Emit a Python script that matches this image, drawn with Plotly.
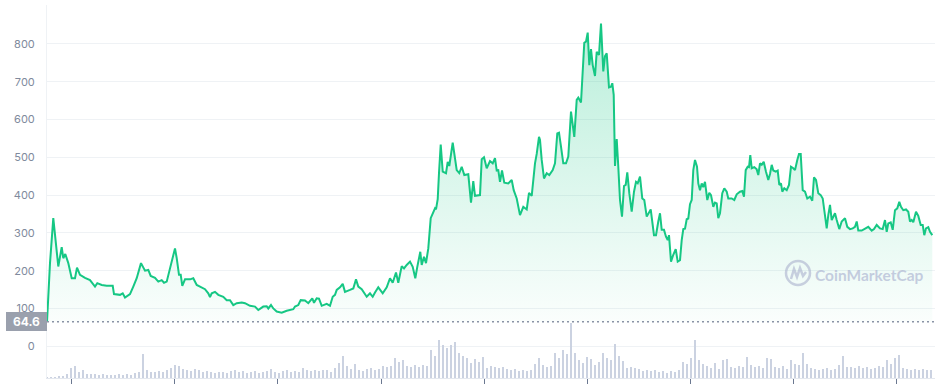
import plotly.graph_objects as go

# ---- price series (time in hours since start, price in USD) ----
hours = [0, 21, 44, 56, 79, 103, 114, 128, 149, 173, 196, 210, 231, 266, 301, 336, 352, 383, 418, 460,
         469, 511, 530, 546, 581, 604, 628, 658, 686, 709, 726, 756, 779, 803, 819, 838, 854, 873, 896, 908,
         924, 936, 947, 966, 1001, 1024, 1048, 1071, 1106, 1129, 1141, 1153, 1176, 1199, 1234, 1258, 1281, 1304, 1328, 1363,
         1386, 1421, 1456, 1479, 1514, 1538, 1549, 1568, 1584, 1608, 1643, 1678, 1701, 1724, 1736, 1759, 1776, 1806, 1829, 1857,
         1869, 1888, 1904, 1923, 1958, 1981, 2000, 2016, 2028, 2051, 2070, 2086, 2121, 2144, 2163, 2179, 2203, 2219, 2238, 2261,
         2280, 2296, 2319, 2350, 2378, 2401, 2420, 2443, 2459, 2483, 2499, 2518, 2541, 2560, 2578, 2592, 2613, 2623, 2639, 2653,
         2669, 2686, 2704, 2716, 2723, 2735, 2744, 2756, 2770, 2793, 2805, 2816, 2840, 2851, 2868, 2886, 2903, 2921, 2949, 2968,
         2984, 2996, 3031, 3043, 3059, 3078, 3101, 3120, 3136, 3148, 3159, 3171, 3185, 3201, 3229, 3253, 3267, 3288, 3311, 3334,
         3358, 3374, 3393, 3416, 3428, 3444, 3451, 3463, 3479, 3498, 3516, 3540, 3556, 3572, 3584, 3598, 3614, 3633, 3649, 3668,
         3680, 3691, 3708, 3719, 3738, 3750, 3761, 3773, 3785, 3796, 3808, 3820, 3836, 3848, 3864, 3878, 3894, 3906, 3918, 3934,
         3948, 3957, 3967, 3976, 3988, 3999, 4011, 4025, 4039, 4051, 4062, 4076, 4093, 4109, 4123, 4135, 4151, 4167, 4181, 4198,
         4209, 4226, 4249, 4263, 4279, 4291, 4303, 4319, 4333, 4345, 4354, 4368, 4384, 4401, 4415, 4431, 4443, 4454, 4466, 4478,
         4489, 4501, 4513, 4524, 4536, 4550, 4559, 4571, 4583, 4594, 4606, 4622, 4636, 4648, 4664, 4676, 4688, 4699, 4711, 4727,
         4741, 4758, 4769, 4793, 4811, 4828, 4851, 4867, 4879, 4891, 4905, 4914, 4923, 4933, 4951, 4968, 4979, 4991, 5003, 5017,
         5033, 5049, 5061, 5073, 5084, 5101, 5115, 5126, 5138, 5147, 5161, 5178, 5194, 5208, 5224, 5236, 5252, 5264, 5276, 5290,
         5306, 5322, 5341, 5357, 5369, 5383, 5399, 5416, 5430, 5446, 5458, 5469, 5481, 5493, 5504, 5516, 5528, 5546, 5563, 5586,
         5602, 5621, 5640, 5656, 5668, 5679, 5703, 5726, 5749, 5773, 5789, 5808, 5831, 5850, 5866, 5878, 5889, 5906, 5920, 5936,
         5952, 5966, 5978, 5994, 6013, 6029, 6041, 6053, 6064, 6083, 6099, 6116, 6130, 6141, 6153, 6169, 6181, 6197]

price = [64.6, 220, 339, 300, 211, 262, 233, 244, 220, 180, 180, 208, 189, 181, 175, 158, 167, 162, 160, 160,
         138, 136, 140, 129, 138, 158, 180, 220, 200, 202, 186, 181, 171, 175, 168, 171, 194, 228, 259, 233,
         189, 189, 160, 177, 177, 180, 162, 158, 151, 140, 130, 140, 144, 136, 131, 122, 122, 109, 114, 116,
         114, 107, 105, 96, 105, 106, 100, 109, 100, 92, 89, 94, 96, 98, 105, 109, 122, 121, 114, 127,
         115, 127, 126, 107, 112, 107, 131, 136, 149, 156, 165, 144, 149, 153, 177, 158, 151, 142, 131, 140,
         131, 142, 156, 140, 156, 180, 168, 195, 168, 212, 206, 215, 224, 210, 180, 210, 250, 215, 237, 220,
         259, 339, 356, 365, 362, 389, 458, 534, 462, 458, 488, 477, 539, 511, 466, 458, 475, 453, 455, 380,
         437, 398, 400, 495, 500, 471, 490, 484, 498, 465, 466, 435, 465, 433, 431, 440, 413, 391, 347, 369,
         362, 406, 398, 484, 509, 554, 546, 493, 444, 458, 453, 466, 484, 563, 565, 528, 484, 484, 502, 621,
         581, 554, 652, 658, 645, 731, 803, 806, 830, 744, 786, 744, 715, 779, 771, 854, 727, 768, 775, 685,
         687, 696, 665, 477, 548, 475, 387, 343, 424, 427, 460, 405, 356, 409, 435, 431, 449, 391, 387, 343,
         352, 362, 294, 294, 330, 352, 308, 308, 290, 281, 294, 224, 242, 257, 224, 228, 281, 310, 311, 336,
         338, 376, 387, 466, 493, 475, 431, 413, 431, 421, 435, 387, 406, 400, 369, 380, 378, 339, 352, 405,
         418, 409, 391, 391, 387, 402, 409, 411, 396, 466, 475, 474, 506, 471, 474, 468, 453, 484, 480, 488,
         462, 440, 456, 480, 465, 462, 465, 427, 431, 409, 418, 413, 427, 475, 471, 466, 493, 509, 509, 413,
         409, 391, 396, 385, 447, 440, 405, 400, 391, 339, 312, 347, 374, 334, 343, 352, 334, 310, 330, 339,
         316, 310, 312, 316, 330, 306, 306, 310, 316, 306, 310, 321, 312, 310, 334, 303, 325, 328, 308, 360,
         365, 382, 369, 360, 362, 356, 330, 334, 328, 356, 345, 321, 321, 294, 312, 315, 303, 294]

# ---- volume series (millions USD, one bar per 28 h) ----
volume = [1, 1, 1, 2, 2, 4, 10, 12, 6, 8, 4, 4, 4, 3, 4, 3, 3, 3, 4, 3,
          4, 3, 5, 6, 24, 8, 6, 6, 7, 6, 8, 10, 13, 12, 9, 8, 7, 9, 8, 6,
          7, 6, 5, 6, 6, 5, 7, 8, 6, 7, 5, 6, 7, 5, 6, 7, 9, 6, 5, 7,
          8, 6, 7, 6, 10, 8, 7, 8, 7, 8, 8, 6, 10, 15, 22, 12, 9, 14, 8, 7,
          9, 10, 8, 9, 12, 11, 12, 20, 16, 18, 12, 11, 13, 11, 13, 12, 28, 22, 38, 33,
          30, 33, 36, 25, 22, 20, 15, 19, 16, 21, 10, 12, 11, 10, 11, 9, 8, 9, 7, 8,
          7, 8, 14, 20, 13, 11, 12, 25, 20, 28, 24, 55, 25, 18, 15, 21, 19, 13, 16, 25,
          20, 18, 34, 22, 17, 10, 11, 10, 9, 7, 8, 7, 8, 6, 7, 5, 7, 6, 8, 16,
          14, 20, 38, 18, 14, 12, 10, 15, 9, 18, 19, 11, 10, 12, 11, 21, 13, 11, 12, 10,
          20, 19, 11, 10, 12, 9, 18, 14, 13, 25, 14, 10, 9, 8, 9, 10, 8, 9, 13, 22,
          11, 11, 10, 12, 10, 11, 9, 10, 12, 11, 18, 14, 20, 23, 10, 9, 8, 9, 8, 9,
          8, 8]
vol_hours = [28 * i for i in range(len(volume))]

y_ticks = [0, 100, 200, 300, 400, 500, 600, 700, 800]
x_ticks = [172, 894, 1616, 2338, 3060, 3782, 4504, 5226, 5948]

GREEN = "#16c784"
low = min(price)

fig = go.Figure()

fig.add_trace(go.Bar(
    x=vol_hours, y=volume, yaxis="y2",
    marker=dict(color="rgb(203,210,225)", line=dict(width=0)),
    width=16, hoverinfo="skip", showlegend=False,
))

fig.add_trace(go.Scatter(
    x=[hours[0], hours[-1]], y=[low, low], mode="lines",
    line=dict(width=0, color="rgba(0,0,0,0)"), hoverinfo="skip", showlegend=False,
))

fig.add_trace(go.Scatter(
    x=hours, y=price, mode="lines",
    line=dict(color=GREEN, width=2),
    fill="tonexty",
    fillgradient=dict(type="vertical", start=low, stop=max(price),
                      colorscale=[[0, "rgba(22,199,132,0.02)"], [1, "rgba(22,199,132,0.30)"]]),
    showlegend=False,
))

fig.update_layout(
    width=938, height=385,
    margin=dict(l=47, r=3, t=5, b=7),
    paper_bgcolor="white", plot_bgcolor="white",
    bargap=0,
    xaxis=dict(range=[0, 6216], showgrid=False, zeroline=False,
               showline=True, linecolor="#e3e7ee", linewidth=1,
               ticks="outside", tickvals=x_ticks, ticklen=5, tickwidth=1, tickcolor="#6b7890",
               showticklabels=False),
    yaxis=dict(range=[-84, 903], tickvals=y_ticks, showgrid=True, gridcolor="#eff2f5", gridwidth=1,
               zeroline=False, showline=True, linecolor="#eff2f5", linewidth=1,
               ticks="", ticklabelstandoff=9,
               tickfont=dict(family="Inter", size=11, color="#808a9d")),
    yaxis2=dict(overlaying="y", range=[0, max(volume) * 6.8], visible=False),
    shapes=[
        dict(type="line", xref="paper", x0=0, x1=1, yref="y", y0=low, y1=low,
             line=dict(color="#8a93a6", width=1.5, dash="2px,3px"), layer="above"),
        dict(type="circle", xref="paper", xsizemode="pixel", xanchor=1, x0=-149, x1=-125,
             yref="paper", ysizemode="pixel", yanchor=0, y0=93, y1=117,
             line=dict(color="rgba(170,176,205,0.6)", width=2.5), layer="above"),
        dict(type="path", xref="paper", xsizemode="pixel", xanchor=1,
             yref="paper", ysizemode="pixel", yanchor=0,
             path="M -144,99 L -141,109 L -138,101 L -135,110 L -132,102 L -129,106",
             line=dict(color="rgba(170,176,205,0.6)", width=2.5), layer="above"),
    ],
    annotations=[
        dict(x=0, xref="paper", xanchor="right", y=low, yref="y", yanchor="middle",
             text="<b>64.6</b>", showarrow=False, width=41, height=19,
             bgcolor="#9aa0ad", borderpad=0, borderwidth=0,
             font=dict(family="Inter", size=12, color="white")),
        dict(x=1, xref="paper", xanchor="right", xshift=-9, y=0.276, yref="paper", yanchor="middle",
             text="<b>CoinMarketCap</b>", showarrow=False,
             font=dict(family="Lato", size=15.5, color="rgba(165,172,205,0.6)")),
    ],
)

fig.write_html("out.html", config={"displayModeBar": False},
               post_script="document.body.style.margin='0';document.body.style.overflow='hidden';")
